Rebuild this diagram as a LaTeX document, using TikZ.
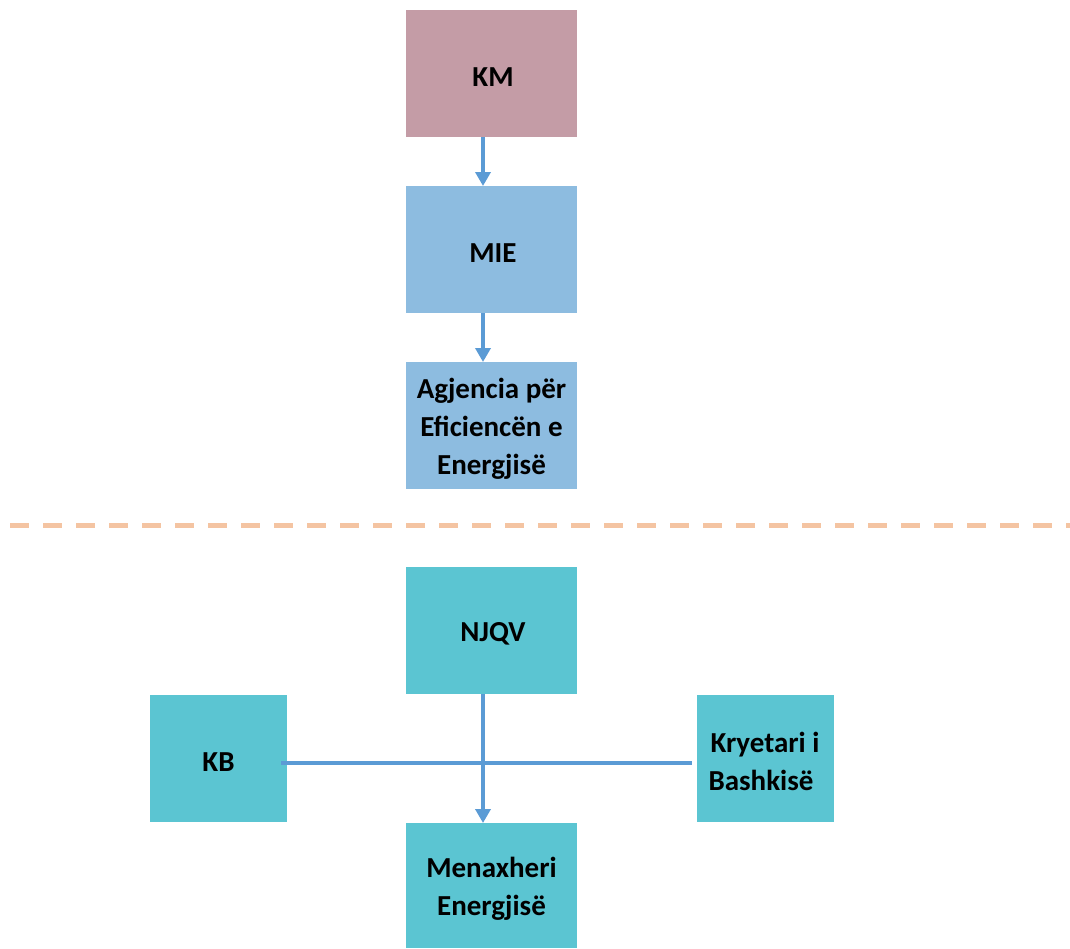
\documentclass[tikz,border=0pt]{standalone}
\usepackage{fontspec}
\setmainfont{Carlito}
\usetikzlibrary{arrows.meta}
\definecolor{kmcol}{HTML}{C49CA6}
\definecolor{bluebox}{HTML}{8DBCE0}
\definecolor{tealbox}{HTML}{5BC5D2}
\definecolor{arrowcol}{HTML}{5B9BD5}
\definecolor{dashcol}{HTML}{F4C4A2}
\newcommand{\lowr}{\rule{0pt}{26pt}}
\tikzset{
  box/.style={minimum width=171pt, minimum height=127pt, inner sep=0pt, align=center,
    font=\fontsize{29}{38}\selectfont\bfseries, text=black},
  sbox/.style={box, minimum width=137pt},
  conn/.style={draw=arrowcol, line width=4pt},
  arr/.style={conn, -{Triangle[width=15pt,length=14pt]}}
}
\begin{document}
\begin{tikzpicture}[x=1pt,y=-1pt]
\useasboundingbox (0,0) rectangle (1070,948);
\node[box, fill=kmcol] (km) at (491.5,73.5) {\lowr\hspace*{3pt}KM};
\node[box, fill=bluebox] (mie) at (491.5,249.5) {\lowr\hspace*{3pt}MIE};
\node[box, fill=bluebox] (age) at (491.5,425.5) {\lowr Agjencia për\\Eficiencën e\\Energjisë};
\node[box, fill=tealbox] (njqv) at (491.5,630.5) {\lowr\hspace*{3pt}NJQV};
\node[sbox, fill=tealbox] (kb) at (218.5,758.5) {\lowr KB};
\node[sbox, fill=tealbox] (kry) at (765,758.5) {\lowr Kryetari i\\Bashkisë\hspace*{8pt}};
\node[box, fill=tealbox, minimum height=125pt] (men) at (491.5,885.5) {\lowr Menaxheri\\Energjisë};
\draw[dashcol, line width=5pt, dash pattern=on 19pt off 14pt] (10,525) coordinate (d1) -- (1070,525) coordinate (d2);
\draw[arr] (483,137) -- (483,186);
\draw[arr] (483,313) -- (483,362);
\draw[conn] ([xshift=-6pt,yshift=-4.5pt]kb.east) -- ([xshift=-4pt,yshift=-4.5pt]kry.west);
\draw[arr] (483,694) -- (483,823);
\end{tikzpicture}
\end{document}
